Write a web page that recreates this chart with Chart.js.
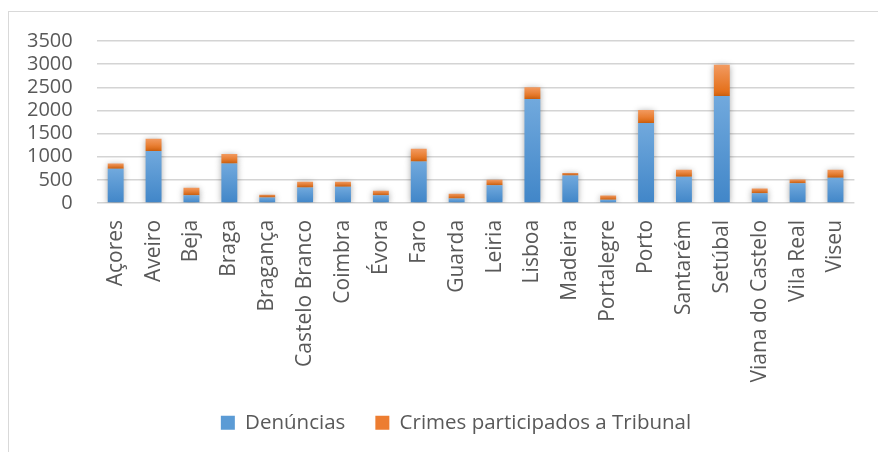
<!DOCTYPE html>
<html>
<head>
<meta charset="utf-8">
<script src="https://cdn.jsdelivr.net/npm/chart.js@4/dist/chart.umd.min.js"></script>
<style>
  html, body { margin: 0; padding: 0; background: #fff; overflow: hidden; }
  #wrap { position: relative; width: 878px; height: 452px; }
  #frame {
    position: absolute; left: 8px; top: 11px; width: 900px; height: 500px;
    border: 1px solid #d9d9d9; box-sizing: border-box;
  }
  canvas { position: absolute; left: 0; top: 0; }
</style>
</head>
<body>
<div id="wrap">
  <div id="frame"></div>
  <canvas id="chart" width="878" height="452"></canvas>
</div>
<script>
// Data
const categories = [
  "Açores", "Aveiro", "Beja", "Braga", "Bragança", "Castelo Branco", "Coimbra",
  "Évora", "Faro", "Guarda", "Leiria", "Lisboa", "Madeira", "Portalegre",
  "Porto", "Santarém", "Setúbal", "Viana do Castelo", "Vila Real", "Viseu"
];
const denuncias = [740, 1125, 165, 855, 120, 335, 350, 165, 895, 95, 380, 2245, 595, 70, 1730, 565, 2310, 210, 425, 545];
const crimesTribunal = [110, 260, 165, 205, 60, 125, 110, 100, 275, 105, 120, 255, 55, 90, 280, 150, 675, 100, 80, 170];
const yTicks = [0, 500, 1000, 1500, 2000, 2500, 3000, 3500];

const textColor = "#595959";

// Per-bar vertical gradient, light at the top, darker at the bottom
function barGradient(top, bottom, fallback) {
  return (context) => {
    const chart = context.chart;
    const y = chart.scales && chart.scales.y;
    if (!chart.chartArea || !y || context.dataIndex === undefined) return fallback;
    let start = 0;
    for (let d = 0; d < context.datasetIndex; d++) {
      start += chart.data.datasets[d].data[context.dataIndex];
    }
    const end = start + chart.data.datasets[context.datasetIndex].data[context.dataIndex];
    const y0 = y.getPixelForValue(end);
    const y1 = y.getPixelForValue(start);
    if (!isFinite(y0) || !isFinite(y1) || y0 === y1) return fallback;
    const g = chart.ctx.createLinearGradient(0, y0, 0, y1);
    g.addColorStop(0, top);
    g.addColorStop(1, bottom);
    return g;
  };
}

// Soft shadow behind the bars
const barShadow = {
  id: "barShadow",
  beforeDatasetsDraw(chart) {
    const ctx = chart.ctx;
    ctx.save();
    ctx.shadowColor = "rgba(0,0,0,0.35)";
    ctx.shadowBlur = 6;
    ctx.shadowOffsetX = 0;
    ctx.shadowOffsetY = 1;
  },
  afterDatasetsDraw(chart) {
    chart.ctx.restore();
  }
};

// Legend sits a little right of the canvas centre in the original
const legendShift = {
  id: "legendShift",
  afterLayout(chart) {
    if (chart.legend) chart.legend.left += 20;
  }
};

const X_PAD = 17;
const Y_PAD = 24;

const ctx = document.getElementById("chart").getContext("2d");
new Chart(ctx, {
  type: "bar",
  data: {
    labels: categories,
    datasets: [
      {
        label: "Denúncias",
        data: denuncias,
        backgroundColor: barGradient("#71a9dd", "#4186c8", "#5b9bd5"),
        borderWidth: 0,
        barPercentage: 0.42,
        categoryPercentage: 1.0,
      },
      {
        label: "Crimes participados a Tribunal",
        data: crimesTribunal,
        backgroundColor: barGradient("#f29a60", "#e2690f", "#ed7d31"),
        borderWidth: 0,
        barPercentage: 0.42,
        categoryPercentage: 1.0,
      },
    ],
  },
  options: {
    responsive: false,
    animation: false,
    devicePixelRatio: 1,
    layout: {
      padding: { left: 27, right: 13, top: 41, bottom: 9 },
    },
    plugins: {
      legend: {
        position: "bottom",
        labels: {
          color: textColor,
          font: { family: "Open Sans", size: 20.5 },
          boxWidth: 14,
          boxHeight: 14,
          padding: 30,
          generateLabels(chart) {
            return chart.data.datasets.map((ds, i) => ({
              text: ds.label,
              fillStyle: i === 0 ? "#5b9bd5" : "#ed7d31",
              strokeStyle: "rgba(0,0,0,0)",
              lineWidth: 0,
              datasetIndex: i,
              fontColor: textColor,
            }));
          },
        },
      },
      tooltip: { enabled: false },
    },
    scales: {
      x: {
        stacked: true,
        grid: { display: false, drawTicks: false },
        border: { display: false },
        ticks: {
          color: textColor,
          font: { family: "Open Sans", size: 21 },
          minRotation: 90,
          maxRotation: 90,
          autoSkip: false,
          padding: X_PAD,
        },
        // padding is counted twice by default, keep it only above the labels
        afterFit(scale) {
          scale.height -= X_PAD;
        },
      },
      y: {
        stacked: true,
        min: 0,
        max: 3500,
        afterBuildTicks(axis) {
          axis.ticks = yTicks.map((v) => ({ value: v }));
        },
        afterFit(scale) {
          scale.width -= Y_PAD;
        },
        grid: {
          color: "#d4d4d4",
          lineWidth: 1.5,
          drawTicks: false,
        },
        border: { display: false },
        ticks: {
          color: textColor,
          font: { family: "Open Sans", size: 20 },
          padding: Y_PAD,
          autoSkip: false,
          callback: (v) => String(v),
        },
      },
    },
  },
  plugins: [barShadow, legendShift],
});
</script>
</body>
</html>
